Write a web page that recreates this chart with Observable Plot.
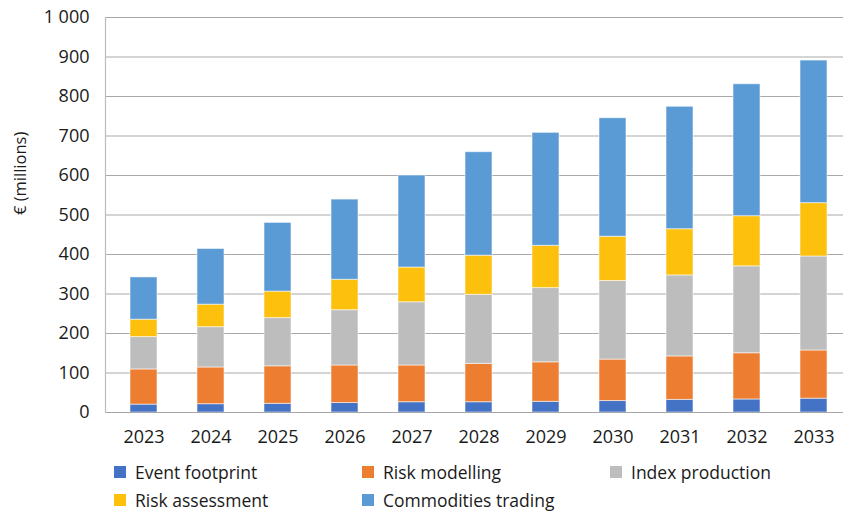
<!DOCTYPE html>
<html>
<head>
<meta charset="utf-8">
<script src="https://cdn.jsdelivr.net/npm/d3@7"></script>
<script src="https://cdn.jsdelivr.net/npm/@observablehq/plot@0.6"></script>
<style>
  html, body { margin: 0; padding: 0; background: #fff; }
  #wrap { position: relative; width: 843px; height: 511px; font-family: "Open Sans", "Noto Sans", sans-serif; color: #1a1a1a; }
  .legend { position: absolute; left: 0; top: 0; width: 843px; height: 511px; pointer-events: none; }
  .item { position: absolute; display: flex; align-items: center; font-size: 17.5px; white-space: nowrap; }
  .sw { width: 12px; height: 12px; margin-right: 9px; }
</style>
</head>
<body>
<div id="wrap"></div>
<script>
const years = ["2023","2024","2025","2026","2027","2028","2029","2030","2031","2032","2033"];
const seriesNames = ["Event footprint", "Risk modelling", "Index production", "Risk assessment", "Commodities trading"];
const eventFootprint     = [20, 21, 22, 24, 26, 26, 27, 29, 32, 33, 35];
const riskModelling      = [89, 93, 95, 95, 93, 97, 100, 105, 110, 117, 122];
const indexProduction    = [82, 102, 122, 140, 160, 175, 188, 199, 205, 220, 238];
const riskAssessment     = [44, 57, 67, 77, 88, 99, 107, 112, 117, 127, 135];
const commoditiesTrading = [107, 141, 174, 203, 233, 262, 286, 300, 310, 334, 361];
const seriesColors = ["#4472C4", "#ED7D31", "#BDBDBD", "#FDC00D", "#5B9BD5"];
const yTicks = [0, 100, 200, 300, 400, 500, 600, 700, 800, 900, 1000];
const yTickLabels = ["0", "100", "200", "300", "400", "500", "600", "700", "800", "900", "1 000"];
const yLabel = "€ (millions)";

const seriesValues = [eventFootprint, riskModelling, indexProduction, riskAssessment, commoditiesTrading];
const rows = [];
seriesNames.forEach((s, si) => years.forEach((y, i) => rows.push({year: y, series: s, value: seriesValues[si][i]})));

const font = '"Open Sans", "Noto Sans", sans-serif';

const chart = Plot.plot({
  width: 843,
  height: 455,
  marginTop: 17,
  marginBottom: 43,
  marginLeft: 105,
  marginRight: 0,
  style: {fontFamily: font, fontSize: "17.5px", color: "#1a1a1a", background: "white", overflow: "hidden"},
  x: {type: "band", domain: years, range: [105, 851], paddingInner: 0.6, paddingOuter: 0.3, align: 0.5},
  y: {domain: [0, 1000], range: [412, 17]},
  color: {domain: seriesNames, range: seriesColors},
  marks: [
    Plot.gridY(yTicks.slice(1), {stroke: "#a9a9a9", strokeOpacity: 1, strokeWidth: 1}),
    Plot.barY(rows, Plot.stackY({order: null}, {x: "year", y: "value", fill: "series", stroke: "white", strokeWidth: 1, strokeOpacity: 0.55, inset: 0})),
    Plot.ruleY([0], {stroke: "#a6a6a6", strokeWidth: 1.2}),
    Plot.frame({anchor: "left", stroke: "#bcbcbc", strokeWidth: 1.2}),
    Plot.axisY(yTicks, {tickSize: 0, tickPadding: 16, tickFormat: (d) => yTickLabels[yTicks.indexOf(d)], fontSize: 18, label: null}),
    Plot.axisX({tickSize: 0, tickPadding: 18, fontSize: 18, label: null}),
    Plot.text([yLabel], {frameAnchor: "left", rotate: -90, dx: -85, fontSize: 16.5, fill: "#1a1a1a"})
  ]
});

const wrap = document.getElementById("wrap");
wrap.appendChild(chart);

const legend = document.createElement("div");
legend.className = "legend";
const legendPos = [[114, 472], [362, 472], [610, 472], [114, 500], [362, 500]];
seriesNames.forEach((s, i) => {
  const it = document.createElement("div");
  it.className = "item";
  it.style.left = legendPos[i][0] + "px";
  it.style.top = (legendPos[i][1] - 12) + "px";
  it.style.height = "24px";
  const sw = document.createElement("span");
  sw.className = "sw";
  sw.style.background = seriesColors[i];
  const tx = document.createElement("span");
  tx.textContent = s;
  it.appendChild(sw); it.appendChild(tx);
  legend.appendChild(it);
});
wrap.appendChild(legend);
</script>
</body>
</html>
